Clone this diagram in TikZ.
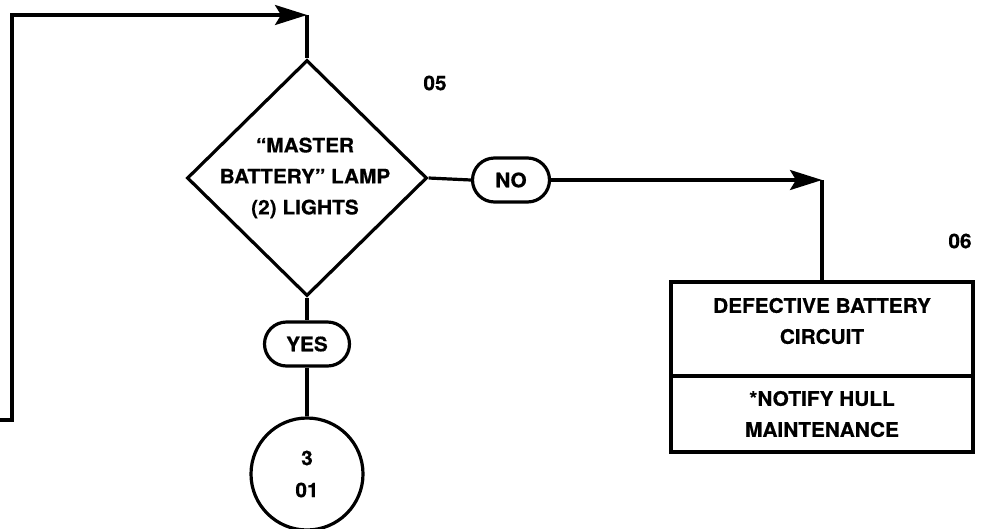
\documentclass[tikz,border=0pt]{standalone}
\usepackage{fontspec}
\setmainfont[FakeStretch=1.04,FakeBold=0.6]{TeX Gyre Heros}
\usetikzlibrary{shapes.geometric,shapes.misc,arrows.meta}
\tikzset{
  ln/.style={line width=3.2pt},
  arr/.style={ln,-{Stealth[length=32pt,width=20pt,inset=6pt]}},
  txtfont/.style={font=\bfseries\fontsize{20}{31}\selectfont},
  txt/.style={txtfont,align=center,inner sep=0pt},
  decide/.style={ln,draw,diamond,minimum width=240pt,minimum height=236pt,inner sep=0pt},
  pill/.style={ln,draw,rounded rectangle,minimum height=44pt,inner sep=0pt,txtfont},
  conn/.style={ln,draw,circle,minimum size=112pt,inner sep=0pt,align=center,font=\bfseries\fontsize{20}{32}\selectfont},
  boxpart/.style={ln,draw,rectangle,minimum width=302pt,inner sep=0pt,txtfont,align=center}
}
\begin{document}
\begin{tikzpicture}[x=1pt,y=-1pt]
\useasboundingbox (0,0) rectangle (984,528);
% decision
\node[decide] (dia) at (307,178) {};
\node[txt] (diatext) at (305,178) {“MASTER\\BATTERY” LAMP\\(2) LIGHTS};
\node[txt] (n05) at (435,83) {05};
% pills
\node[pill,minimum width=77pt] (no) at (511,180) {NO};
\node[pill,minimum width=85pt] (yes) at (307,344) {YES};
% connector circle
\node[conn] (circ) at (307,474) {3\\01};
% box
\node[boxpart,minimum height=94pt] (boxtop) at (822,329) {};
\node[boxpart,minimum height=76pt] (boxbot) at (822,414) {*NOTIFY HULL\\MAINTENANCE};
\node[txt] (boxtoptext) at (822,321) {DEFECTIVE BATTERY\\CIRCUIT};
\node[txt] (n06) at (960,241) {06};
% routing points
\coordinate (fbstart) at (-2,420);
\coordinate (fbleft) at (12,420);
\coordinate (fbtop) at (307,15);
\coordinate (nocorner) at (822,180);
% connectors
\draw[arr] (fbstart) -- (fbleft) |- (fbtop);
\draw[ln] (fbtop) -- (dia.north);
\draw[ln] (dia.east) -- (no.west);
\draw[arr] (no.east) -- (nocorner);
\draw[ln] (nocorner) -- (boxtop.north);
\draw[ln] (dia.south) -- (yes.north);
\draw[ln] (yes.south) -- (circ.north);
\end{tikzpicture}
\end{document}
